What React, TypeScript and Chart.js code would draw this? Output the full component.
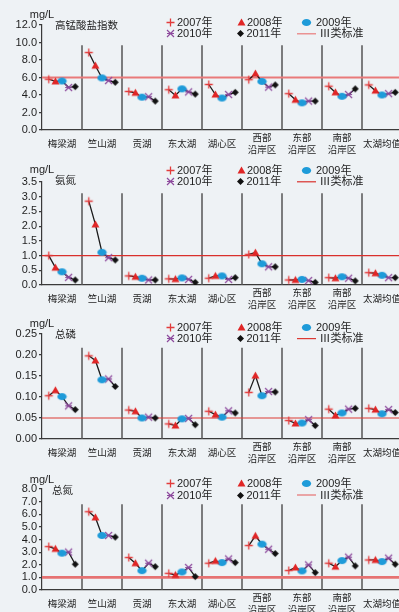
import React, { useEffect, useRef } from 'react';
import { Chart, registerables } from 'chart.js';
Chart.register(...registerables);

const categories: string[][] = [
  ['梅梁湖'], ['竺山湖'], ['贡湖'], ['东太湖'], ['湖心区'],
  ['西部', '沿岸区'], ['东部', '沿岸区'], ['南部', '沿岸区'], ['太湖均值'],
];
const years = ['2007年', '2008年', '2009年', '2010年', '2011年'];
const standardLabel = 'Ⅲ类标准';

// values[category][year 2007..2011]
const codMnValues = [
  [5.8, 5.55, 5.6, 4.85, 4.95],
  [8.85, 7.35, 5.95, 5.65, 5.45],
  [4.4, 4.25, 3.75, 3.8, 3.3],
  [4.6, 3.95, 4.7, 4.35, 4.1],
  [5.2, 4.05, 3.65, 4.05, 4.3],
  [5.75, 6.45, 5.55, 4.9, 5.15],
  [4.15, 3.45, 3.1, 3.3, 3.3],
  [5.0, 4.3, 3.85, 4.05, 4.7],
  [5.15, 4.5, 4.0, 4.15, 4.3],
];
const ammoniaValues = [
  [1.0, 0.59, 0.45, 0.26, 0.17],
  [2.85, 2.06, 1.11, 0.93, 0.85],
  [0.31, 0.28, 0.23, 0.17, 0.17],
  [0.21, 0.2, 0.24, 0.19, 0.09],
  [0.23, 0.31, 0.31, 0.19, 0.25],
  [1.04, 1.1, 0.72, 0.62, 0.62],
  [0.17, 0.17, 0.19, 0.15, 0.09],
  [0.25, 0.23, 0.28, 0.23, 0.14],
  [0.42, 0.4, 0.33, 0.25, 0.25],
];
const phosphorusValues = [
  [0.103, 0.116, 0.101, 0.079, 0.07],
  [0.198, 0.187, 0.141, 0.143, 0.125],
  [0.069, 0.066, 0.05, 0.052, 0.05],
  [0.036, 0.032, 0.048, 0.049, 0.034],
  [0.066, 0.058, 0.052, 0.067, 0.062],
  [0.111, 0.151, 0.103, 0.113, 0.112],
  [0.044, 0.037, 0.038, 0.046, 0.032],
  [0.071, 0.056, 0.062, 0.071, 0.073],
  [0.073, 0.07, 0.06, 0.07, 0.063],
];
const nitrogenValues = [
  [3.44, 3.26, 2.92, 3.0, 2.04],
  [6.2, 5.75, 4.32, 4.32, 4.19],
  [2.57, 2.12, 1.53, 2.12, 1.85],
  [1.32, 1.19, 1.43, 1.78, 1.06],
  [2.12, 2.3, 2.17, 2.46, 2.17],
  [3.52, 4.29, 3.63, 3.23, 2.89],
  [1.54, 1.78, 1.51, 1.99, 1.38],
  [2.12, 1.85, 2.33, 2.6, 1.91],
  [2.38, 2.38, 2.25, 2.52, 2.04],
];
const standards = [6.0, 1.0, 0.05, 1.0];
const titles = ['高锰酸盐指数', '氨氮', '总磷', '总氮'];
const unit = 'mg/L';

type Panel = {
  title: string; values: number[][]; max: number; step: number; dec: number; std: number;
  top: number; bottom: number; sepTop: number; stdColor: string; stdWidth: number;
  legendY: number; mgY: number; titleX: number; titleY: number;
};

const panels: Panel[] = [
  { title: titles[0], values: codMnValues, max: 12, step: 2, dec: 1, std: standards[0],
    top: 25, bottom: 130, sepTop: 9.7, stdColor: '#e97a7a', stdWidth: 2.2,
    legendY: 22.3, mgY: 14.7, titleX: 55, titleY: 26 },
  { title: titles[1], values: ammoniaValues, max: 3.5, step: 0.5, dec: 1, std: standards[1],
    top: 181.5, bottom: 284.5, sepTop: 3.12, stdColor: '#d9302c', stdWidth: 1.3,
    legendY: 169.8, mgY: 169.2, titleX: 55, titleY: 181 },
  { title: titles[2], values: phosphorusValues, max: 0.25, step: 0.05, dec: 2, std: standards[2],
    top: 333.7, bottom: 438.8, sepTop: 0.217, stdColor: '#dc3a34', stdWidth: 1.2,
    legendY: 326.8, mgY: 324, titleX: 55, titleY: 335 },
  { title: titles[3], values: nitrogenValues, max: 8, step: 1, dec: 1, std: standards[3],
    top: 489, bottom: 590, sepTop: 6.8, stdColor: '#e67272', stdWidth: 2.6,
    legendY: 483.5, mgY: 480, titleX: 52, titleY: 490.7 },
];

const PAD_TOP = 24;
const X_H = 32;
const CANVAS_W = 410;
const SUB = 0.165;
const FONT = '"Liberation Sans", "Noto Sans CJK SC", sans-serif';
const TEXT = '#1e1e1e';

let markerCache: HTMLCanvasElement[] | null = null;
function getMarkers(): HTMLCanvasElement[] {
  if (markerCache) return markerCache;
  const list: HTMLCanvasElement[] = [];
  for (let k = 0; k < 5; k++) {
    const c = document.createElement('canvas');
    c.width = 11; c.height = 11;
    const g = c.getContext('2d')!;
    const m = 5.5;
    g.lineCap = 'butt';
    if (k === 0) {
      g.strokeStyle = '#e23c3c'; g.lineWidth = 1.3;
      g.beginPath(); g.moveTo(m - 4, m); g.lineTo(m + 4, m); g.moveTo(m, m - 4); g.lineTo(m, m + 4); g.stroke();
    } else if (k === 1) {
      g.fillStyle = '#e02626';
      g.beginPath(); g.moveTo(m, m - 4); g.lineTo(m + 4, m + 3); g.lineTo(m - 4, m + 3); g.closePath(); g.fill();
    } else if (k === 2) {
      g.fillStyle = '#1e9bd9';
      g.beginPath(); g.ellipse(m, m, 4.6, 3.6, 0, 0, Math.PI * 2); g.fill();
    } else if (k === 3) {
      g.strokeStyle = '#8d4a9d'; g.lineWidth = 1.2;
      g.beginPath();
      g.moveTo(m - 3.5, m - 3.5); g.lineTo(m + 3.5, m + 3.5);
      g.moveTo(m + 3.5, m - 3.5); g.lineTo(m - 3.5, m + 3.5);
      g.moveTo(m - 3.5, m); g.lineTo(m + 3.5, m);
      g.stroke();
    } else {
      g.fillStyle = '#111';
      g.beginPath(); g.moveTo(m, m - 3.5); g.lineTo(m + 3.5, m); g.lineTo(m, m + 3.5); g.lineTo(m - 3.5, m); g.closePath(); g.fill();
    }
    list.push(c);
  }
  markerCache = list;
  return list;
}

function PanelChart({ p }: { p: Panel }) {
  const ref = useRef<HTMLCanvasElement>(null);
  const offY = p.top - PAD_TOP;
  const H = (p.bottom - p.top) + PAD_TOP + X_H;

  useEffect(() => {
    const canvas = ref.current!;
    const markers = getMarkers();
    const datasets: any[] = [];
    years.forEach((yr, j) => {
      datasets.push({
        label: yr,
        data: categories.map((_, i) => ({ x: i + (j - 2) * SUB, y: p.values[i][j] })),
        showLine: false,
        pointStyle: markers[j],
        pointRadius: 4,
        order: 0,
      });
    });
    categories.forEach((_, i) => {
      datasets.push({
        label: 'g' + i,
        data: years.map((_, j) => ({ x: i + (j - 2) * SUB, y: p.values[i][j] })),
        borderColor: '#1a1a1a',
        borderWidth: 1.3,
        pointRadius: 0,
        order: 1,
      });
    });
    datasets.push({
      label: standardLabel,
      data: [{ x: -0.5, y: p.std }, { x: categories.length - 0.5, y: p.std }],
      borderColor: p.stdColor,
      borderWidth: p.stdWidth,
      pointRadius: 0,
      order: 2,
    });

    const decor = {
      id: 'decor',
      beforeDatasetsDraw(chart: any) {
        const ctx = chart.ctx;
        const xs = chart.scales.x, ys = chart.scales.y;
        ctx.save();
        ctx.strokeStyle = '#555';
        ctx.lineWidth = 1.5;
        for (let i = 0; i < categories.length - 1; i++) {
          const px = xs.getPixelForValue(i + 0.5);
          ctx.beginPath();
          ctx.moveTo(px, ys.getPixelForValue(0));
          ctx.lineTo(px, ys.getPixelForValue(p.sepTop));
          ctx.stroke();
        }
        ctx.restore();
      },
      afterDraw(chart: any) {
        const ctx = chart.ctx;
        ctx.save();
        ctx.fillStyle = TEXT;
        ctx.textBaseline = 'middle';
        ctx.font = `11px ${FONT}`;
        ctx.textAlign = 'center';
        ctx.fillText(unit, chart.chartArea.left, p.mgY - offY);
        ctx.font = `10.5px ${FONT}`;
        ctx.textAlign = 'left';
        ctx.fillText(p.title, p.titleX, p.titleY - offY);
        const r1 = p.legendY - offY;
        const r2 = r1 + 11.5;
        const items = [
          { mx: 170, y: r1, tx: 177, k: 0 },
          { mx: 241, y: r1, tx: 247, k: 1 },
          { mx: 306, y: r1, tx: 316, k: 2 },
          { mx: 170, y: r2, tx: 177, k: 3 },
          { mx: 240, y: r2, tx: 246.5, k: 4 },
        ];
        ctx.font = `11px ${FONT}`;
        items.forEach((it) => {
          const img = markers[it.k];
          ctx.drawImage(img, Math.round(it.mx - img.width / 2), Math.round(it.y - img.height / 2));
          ctx.fillText(years[it.k], it.tx, it.y + 0.5);
        });
        ctx.strokeStyle = p.stdColor;
        ctx.lineWidth = 1.2;
        ctx.beginPath();
        ctx.moveTo(297, r2);
        ctx.lineTo(316, r2);
        ctx.stroke();
        ctx.fillText(standardLabel, 319.5, r2 + 0.5);
        ctx.restore();
      },
    };

    const chart = new Chart(canvas, {
      type: 'line',
      data: { datasets },
      options: {
        animation: false,
        responsive: false,
        maintainAspectRatio: false,
        events: [],
        layout: { padding: { top: PAD_TOP, left: 0, right: CANVAS_W - 402, bottom: 0 } },
        plugins: { legend: { display: false }, tooltip: { enabled: false } },
        elements: { line: { tension: 0 } },
        scales: {
          x: {
            type: 'linear',
            min: -0.5,
            max: categories.length - 0.5,
            afterBuildTicks: (s: any) => { s.ticks = categories.map((_, i) => ({ value: i })); },
            afterFit: (s: any) => { s.height = X_H; },
            grid: { display: false, drawTicks: false },
            border: { display: true, color: '#3a3a3a', width: 1.2 },
            ticks: {
              autoSkip: false,
              maxRotation: 0,
              minRotation: 0,
              padding: 8,
              crossAlign: 'center',
              color: TEXT,
              font: { family: FONT, size: 9.5, lineHeight: 1.32 },
              callback: (v: any) => categories[Math.round(v)] || '',
            },
          },
          y: {
            min: 0,
            max: p.max,
            afterFit: (s: any) => { s.width = 42; },
            grid: { drawOnChartArea: false, drawTicks: true, tickLength: 3, color: '#3a3a3a', lineWidth: 1.2 },
            border: { display: true, color: '#3a3a3a', width: 1.2 },
            ticks: {
              autoSkip: false,
              stepSize: p.step,
              padding: 2,
              color: TEXT,
              font: { family: FONT, size: 11 },
              callback: (v: any) => Number(v).toFixed(p.dec),
            },
          },
        },
      },
      plugins: [decor],
    } as any);
    return () => chart.destroy();
  }, []);

  return (
    <canvas
      ref={ref}
      width={CANVAS_W}
      height={H}
      style={{ position: 'absolute', left: 0, top: offY, width: CANVAS_W, height: H }}
    />
  );
}

export default function App() {
  return (
    <div
      style={{
        position: 'absolute', left: 0, top: 0, width: 399, height: 612,
        overflow: 'hidden', background: '#eef2f5',
      }}
    >
      {panels.map((p, k) => <PanelChart key={k} p={p} />)}
    </div>
  );
}
